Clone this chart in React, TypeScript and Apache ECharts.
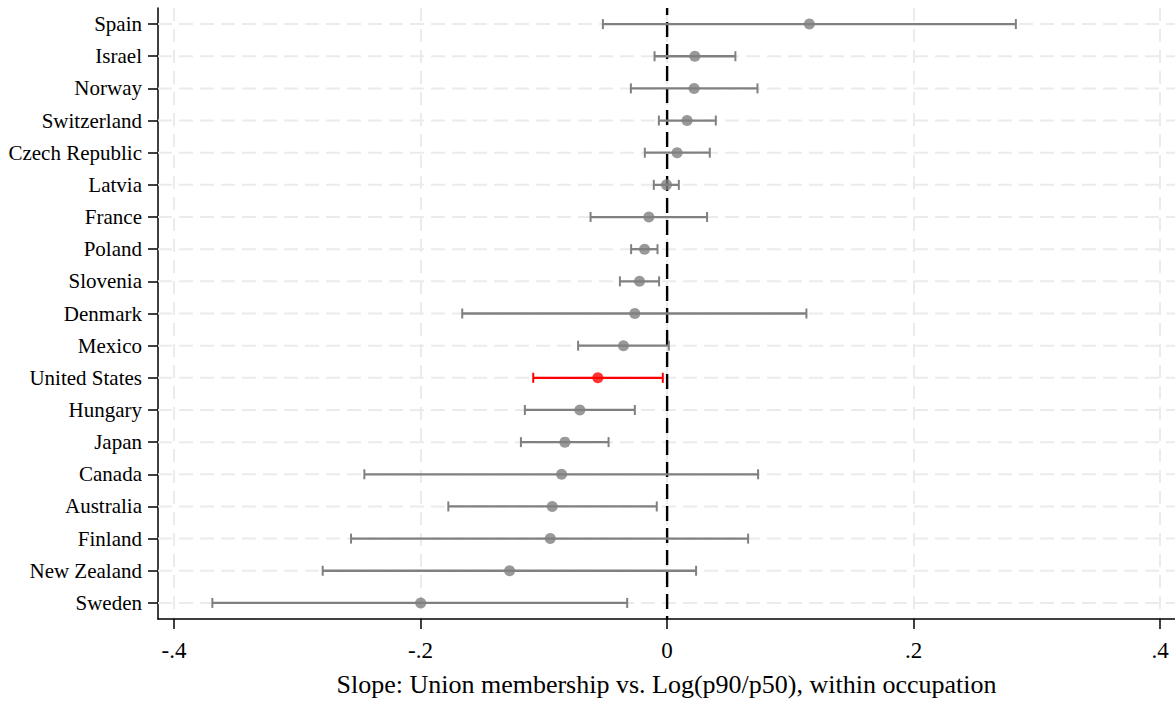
import React, { useEffect, useRef } from "react";
import * as echarts from "echarts";

const countries = [
  "Spain", "Israel", "Norway", "Switzerland", "Czech Republic", "Latvia", "France",
  "Poland", "Slovenia", "Denmark", "Mexico", "United States", "Hungary", "Japan",
  "Canada", "Australia", "Finland", "New Zealand", "Sweden",
];
const estimates = [
  0.1154, 0.0225, 0.0219, 0.0162, 0.0081, -0.0005, -0.0148, -0.0183, -0.0224, -0.0262,
  -0.0354, -0.0562, -0.0708, -0.0829, -0.0856, -0.0932, -0.0948, -0.1278, -0.1999,
];
const lowerCI = [
  -0.0521, -0.0102, -0.0294, -0.0067, -0.0181, -0.0108, -0.0621, -0.0292, -0.0383, -0.1662,
  -0.0722, -0.1086, -0.1154, -0.1186, -0.2456, -0.1775, -0.2564, -0.2794, -0.3689,
];
const upperCI = [
  0.2829, 0.0554, 0.0733, 0.0395, 0.0346, 0.0095, 0.0324, -0.0078, -0.0065, 0.113,
  0.0014, -0.0035, -0.0262, -0.0475, 0.0738, -0.0084, 0.0657, 0.0235, -0.0324,
];
const highlighted = "United States";
const xTicks = [-0.4, -0.2, 0, 0.2, 0.4];
const xTickLabels = ["-.4", "-.2", "0", ".2", ".4"];
const referenceX = [0];
const xTitle = "Slope: Union membership vs. Log(p90/p50), within occupation";

const FONT = "'Liberation Serif', 'Times New Roman', serif";
const GRAY = "#808080";
const RED = "#ff0000";
const GRID = "#ebebeb";

export default function App() {
  const ref = useRef<HTMLDivElement>(null);

  useEffect(() => {
    if (!ref.current) return;
    const chart = echarts.init(ref.current, undefined, { renderer: "svg" });

    const colorOf = (c: string) => (c === highlighted ? RED : GRAY);

    const option: any = {
      animation: false,
      backgroundColor: "#ffffff",
      grid: { left: 158, right: 0, top: 8, bottom: 82, containLabel: false },
      xAxis: {
        type: "value",
        min: -0.413,
        max: 0.412,
        name: xTitle,
        nameLocation: "middle",
        nameGap: 52,
        nameTextStyle: { fontFamily: FONT, fontSize: 26, color: "#000" },
        axisLine: { show: true, onZero: false, lineStyle: { color: "#000", width: 1.5 } },
        axisTick: {
          show: true,
          length: 10,
          customValues: xTicks,
          lineStyle: { color: "#000", width: 1.5 },
        },
        axisLabel: {
          customValues: xTicks,
          margin: 20,
          fontFamily: FONT,
          fontSize: 23,
          color: "#000",
          formatter: (v: number) => {
            const i = xTicks.findIndex((t) => Math.abs(t - v) < 1e-9);
            return i >= 0 ? xTickLabels[i] : "";
          },
        },
        splitLine: {
          show: true,
          lineStyle: { color: GRID, width: 2, type: [13, 8] },
        },
      },
      yAxis: {
        type: "category",
        data: countries,
        inverse: true,
        boundaryGap: true,
        axisLine: { show: true, onZero: false, lineStyle: { color: "#000", width: 1.5 } },
        axisTick: {
          show: true,
          alignWithLabel: true,
          length: 10,
          lineStyle: { color: "#000", width: 1.5 },
        },
        axisLabel: {
          margin: 16,
          fontFamily: FONT,
          fontSize: 21,
          color: "#000",
          interval: 0,
        },
        splitLine: { show: false },
      },
      series: [
        {
          type: "custom",
          name: "gridlines",
          silent: true,
          z: 1,
          encode: { x: 0, y: 1 },
          data: countries.map((_, i) => [0, i]),
          renderItem: (params: any, api: any) => {
            const p = api.coord([0, api.value(1)]);
            const cs = params.coordSys;
            return {
              type: "line",
              shape: { x1: cs.x, y1: p[1], x2: cs.x + cs.width, y2: p[1] },
              style: { stroke: GRID, lineWidth: 2, lineDash: [14, 7] },
            };
          },
        },
        {
          type: "custom",
          name: "zero",
          silent: true,
          z: 2,
          encode: { x: 0, y: 1 },
          data: referenceX.map((v) => [v, 0]),
          renderItem: (params: any, api: any) => {
            const p = api.coord([api.value(0), 0]);
            const cs = params.coordSys;
            return {
              type: "line",
              shape: { x1: p[0], y1: cs.y, x2: p[0], y2: cs.y + cs.height },
              style: { stroke: "#000", lineWidth: 2.4, lineDash: [15, 7], lineDashOffset: 8 },
            };
          },
        },
        {
          type: "custom",
          name: "ci",
          z: 3,
          encode: { x: [1, 2], y: 0 },
          data: countries.map((c, i) => ({
            value: [i, lowerCI[i], upperCI[i]],
            itemStyle: { color: colorOf(c) },
          })),
          renderItem: (params: any, api: any) => {
            const cat = api.value(0);
            const lo = api.coord([api.value(1), cat]);
            const hi = api.coord([api.value(2), cat]);
            const color = api.visual("color");
            const h = 5;
            return {
              type: "group",
              children: [
                {
                  type: "line",
                  shape: { x1: lo[0], y1: lo[1], x2: hi[0], y2: hi[1] },
                  style: { stroke: color, lineWidth: 2.3 },
                },
                {
                  type: "line",
                  shape: { x1: lo[0], y1: lo[1] - h, x2: lo[0], y2: lo[1] + h },
                  style: { stroke: color, lineWidth: 2 },
                },
                {
                  type: "line",
                  shape: { x1: hi[0], y1: hi[1] - h, x2: hi[0], y2: hi[1] + h },
                  style: { stroke: color, lineWidth: 2 },
                },
              ],
            };
          },
        },
        {
          type: "scatter",
          name: "estimate",
          z: 6,
          symbol: "circle",
          symbolSize: 11,
          encode: { x: 0, y: 1 },
          data: countries.map((c, i) => ({
            value: [estimates[i], i],
            itemStyle: { color: colorOf(c) },
          })),
        },
      ],
    };

    chart.setOption(option);
    return () => chart.dispose();
  }, []);

  return (
    <div
      ref={ref}
      style={{ position: "absolute", left: 0, top: 0, width: 1175, height: 702, background: "#fff" }}
    />
  );
}
